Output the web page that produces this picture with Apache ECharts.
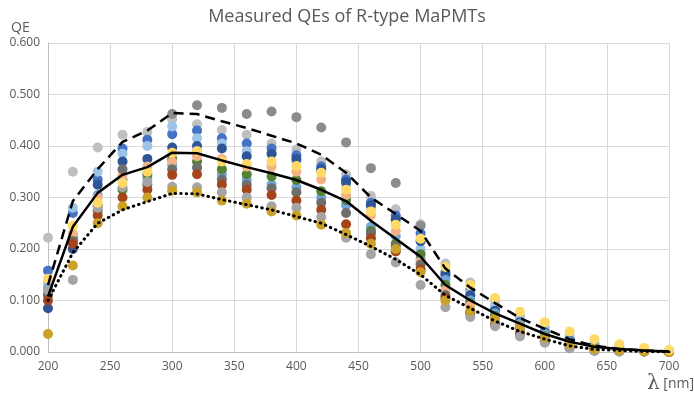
<!DOCTYPE html>
<html><head><meta charset="utf-8">
<script src="https://cdn.jsdelivr.net/npm/echarts@6/dist/echarts.min.js"></script>
<style>html,body{margin:0;padding:0;background:#fff}#c{width:694px;height:396px}</style>
</head><body><div id="c"></div>
<script>
const wavelengths = [200,220,240,260,280,300,320,340,360,380,400,420,440,460,480,500,520,540,560,580,600,620,640,660,680,700];
const yTicks = [0,0.1,0.2,0.3,0.4,0.5,0.6];
const seriesNames = ['PMT-LG','PMT-DG','PMT-B1','PMT-LB','PMT-B2','PMT-MB','PMT-G','PMT-S','PMT-GR','PMT-BR','PMT-GY','PMT-GD','PMT-Y'];
const seriesColors = ['#BFBFBF','#8C8C8C','#4472C4','#9DC3E6','#2F5597','#6FA8DC','#548235','#F4B183','#6E6E6E','#A5451B','#A5A5A5','#C9A227','#FFD966'];
const qeLG = [0.222,0.350,0.397,0.422,0.427,0.452,0.442,0.431,0.422,0.405,0.393,0.370,0.345,0.303,0.277,0.248,0.172,0.135,0.100,0.070,0.048,0.030,0.018,0.010,0.005,0.002];
const qeDG = [null,null,null,null,null,0.462,0.479,0.474,0.462,0.467,0.456,0.436,0.407,0.357,0.328,0.245,null,null,null,null,null,null,null,null,null,null];
const qeB1 = [0.158,0.270,0.335,0.395,0.412,0.423,0.430,0.415,0.405,0.395,0.382,0.360,0.335,0.290,0.265,0.230,0.155,0.120,0.085,0.060,0.040,0.025,0.012,0.006,0.003,0.001];
const qeLB = [0.135,0.280,0.350,0.385,0.400,0.438,0.415,0.405,0.390,0.385,0.370,0.350,0.325,0.280,0.255,0.200,0.145,0.115,0.090,0.065,0.045,0.028,0.015,0.008,0.004,0.002];
const qeB2 = [0.085,0.200,0.325,0.370,0.375,0.397,0.400,0.395,0.380,0.385,0.375,0.355,0.330,0.285,0.258,0.215,0.150,0.110,0.080,0.058,0.038,0.022,0.010,0.005,0.002,0.001];
const qeMB = [0.125,0.225,0.305,0.335,0.338,0.363,0.390,0.345,0.335,0.325,0.320,0.300,0.285,0.243,0.225,0.180,0.140,0.100,0.075,0.055,0.035,0.020,0.010,0.005,0.002,0.001];
const qeG  = [0.110,0.220,0.285,0.315,0.345,0.375,0.370,0.355,0.345,0.341,0.334,0.312,0.295,0.235,0.210,0.190,0.130,0.095,0.070,0.045,0.030,0.015,0.006,0.003,0.001,0.000];
const qeS  = [0.118,0.230,0.300,0.343,0.360,0.370,0.380,0.375,0.360,0.360,0.350,0.335,0.305,0.265,0.235,0.175,0.120,0.090,0.062,0.040,0.022,0.010,0.003,0.002,0.001,0.000];
const qeGR = [0.112,0.215,0.275,0.355,0.325,0.355,0.358,0.335,0.325,0.318,0.310,0.290,0.270,0.230,0.205,0.170,0.110,0.075,0.055,0.035,0.020,0.008,0.003,0.001,0.001,0.000];
const qeBR = [0.100,0.210,0.265,0.300,0.315,0.344,0.345,0.325,0.315,0.305,0.294,0.276,0.248,0.221,0.195,0.160,0.105,0.078,0.052,0.035,0.020,0.010,0.004,0.002,0.001,0.000];
const qeGY = [0.120,0.140,0.280,0.320,0.330,0.321,0.320,0.310,0.300,0.283,0.280,0.262,0.222,0.190,0.174,0.130,0.087,0.068,0.050,0.030,0.018,0.007,0.002,0.001,0.001,0.000];
const qeGD = [0.035,0.168,0.250,0.283,0.300,0.313,0.310,0.294,0.288,0.273,0.265,0.247,0.231,0.210,0.200,0.155,0.100,0.080,0.065,0.050,0.028,0.015,0.006,0.003,0.001,0.000];
const qeY  = [0.142,0.245,0.290,0.328,0.350,0.387,0.390,0.370,0.365,0.370,0.361,0.348,0.315,0.273,0.247,0.220,0.165,0.130,0.105,0.078,0.058,0.040,0.025,0.015,0.008,0.004];
const qeUpper = [0.130,0.293,0.355,0.408,0.430,0.464,0.462,0.448,0.435,0.420,0.405,0.383,0.348,0.300,0.268,0.235,0.162,0.125,0.095,0.066,0.045,0.025,0.012,0.006,0.003,0.001];
const qeMean  = [0.108,0.243,0.309,0.344,0.359,0.387,0.386,0.372,0.359,0.347,0.334,0.315,0.293,0.255,0.220,0.185,0.130,0.100,0.075,0.055,0.035,0.020,0.010,0.006,0.003,0.001];
const qeLower = [0.100,0.193,0.250,0.276,0.292,0.308,0.307,0.296,0.286,0.276,0.263,0.250,0.228,0.205,0.180,0.150,0.110,0.085,0.060,0.040,0.025,0.012,0.005,0.003,0.001,0.000];

const pmtData = [qeLG,qeDG,qeB1,qeLB,qeB2,qeMB,qeG,qeS,qeGR,qeBR,qeGY,qeGD,qeY];
const pair = arr => wavelengths.map((w,i)=>[w, arr[i]]).filter(p=>p[1]!==null);

const series = pmtData.map((arr,k)=>({
  name: seriesNames[k], type:'scatter', data: pair(arr), symbolSize: 10,
  itemStyle:{color: seriesColors[k], opacity:1}, z: 2+k, silent:true
}));
series.push({name:'upper',type:'line',data:pair(qeUpper),showSymbol:false,z:30,
  lineStyle:{color:'#000',width:2.5,type:[10,6]}});
series.push({name:'mean',type:'line',data:pair(qeMean),showSymbol:false,z:30,
  lineStyle:{color:'#000',width:2.5}});
series.push({name:'lower',type:'line',data:pair(qeLower),showSymbol:false,z:30,
  lineStyle:{color:'#000',width:3,type:[0.5,5],cap:'round'}});

const chart = echarts.init(document.getElementById('c'),null,{renderer:'canvas'});
chart.setOption({
  animation:false,
  backgroundColor:'#fff',
  title:[
    {text:'Measured QEs of R-type MaPMTs',left:'center',top:3,
     textStyle:{fontFamily:'Open Sans',fontSize:18,fontWeight:'normal',color:'#595959'}},
    {text:'QE',left:6,top:16,textStyle:{fontFamily:'Open Sans',fontSize:14,fontWeight:'normal',color:'#595959'}}
  ],
  grid:{left:48,right:25,top:43,bottom:44},
  xAxis:{type:'value',min:200,max:700,interval:50,
    axisLine:{show:true,lineStyle:{color:'#BFBFBF'}},axisTick:{show:false},
    splitLine:{show:true,lineStyle:{color:'#D9D9D9',width:1}},
    axisLabel:{color:'#595959',fontFamily:'Open Sans',fontSize:12,margin:9}},
  yAxis:{type:'value',min:yTicks[0],max:yTicks[yTicks.length-1],interval:0.1,
    axisLine:{show:true,lineStyle:{color:'#BFBFBF'}},axisTick:{show:false},
    splitLine:{show:true,lineStyle:{color:'#D9D9D9',width:1}},
    axisLabel:{color:'#595959',fontFamily:'Open Sans',fontSize:12,margin:8,formatter:v=>v.toFixed(3)}},
  graphic:[{type:'text',left:647,top:374,style:{
    text:'{l|λ}{n| [nm]}',
    rich:{l:{fontFamily:'DejaVu Serif',fontSize:20,fill:'#595959'},
          n:{fontFamily:'Open Sans',fontSize:14,fill:'#595959'}}}}],
  series:series
});
</script></body></html>
